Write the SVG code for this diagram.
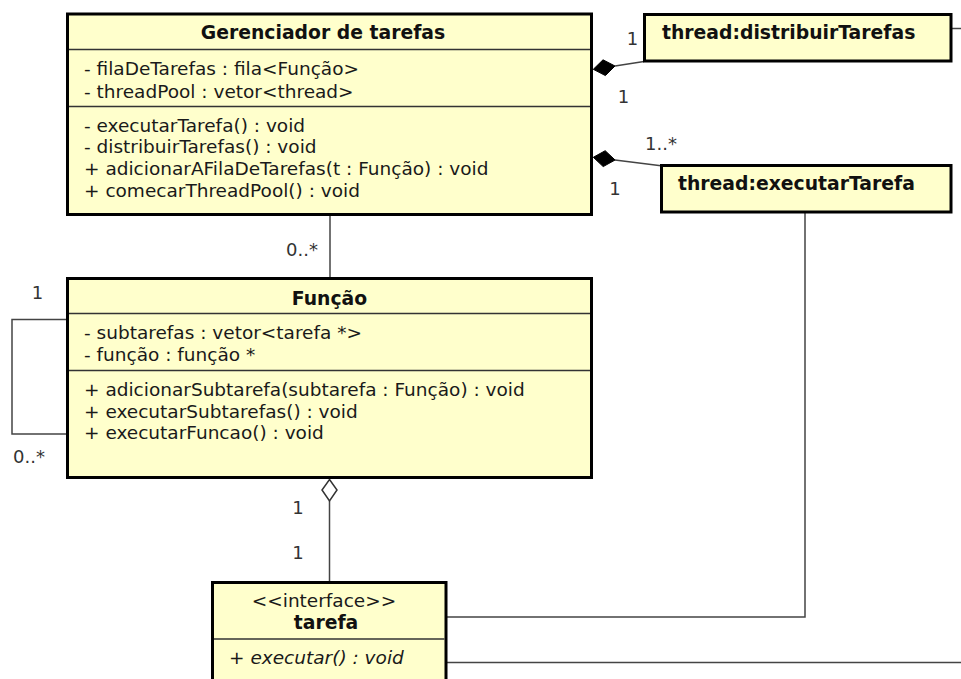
<svg xmlns="http://www.w3.org/2000/svg" width="961" height="679" viewBox="0 0 961 679">
  <style>
    .box { fill: #ffffcc; stroke: #000; stroke-width: 3; }
    .sep { stroke: #333; stroke-width: 1.3; fill: none; }
    .t { font-family: "DejaVu Sans", "Liberation Sans", sans-serif; font-size: 18.5px; fill: #1a1a1a; }
    .b { font-weight: bold; font-size: 18.8px; fill: #111; }
    .i { font-style: italic; }
    .mid { text-anchor: middle; }
    .lbl { font-family: "DejaVu Sans", "Liberation Sans", sans-serif; font-size: 18px; fill: #333; }
    .edge { stroke: #444; stroke-width: 1.5; fill: none; }
    .comp { fill: #000; stroke: #000; stroke-width: 1; }
    .agg { fill: #fff; stroke: #333; stroke-width: 1.5; }
  </style>
  <rect width="961" height="679" fill="#fff"/>

  <!-- connectors -->
  <g id="connectors">
    <path class="edge" d="M330 216 V277"/>
    <path class="edge" d="M615 66 L644 61.5"/>
    <polygon class="comp" points="593.3,69.3 605.4,75.6 615,66 603,59.8"/>
    <path class="edge" d="M615 160 L661 165.7"/>
    <polygon class="comp" points="593.3,157.3 603.2,166.6 615.1,160 605.2,150.7"/>
    <path class="edge" d="M68 319.5 H12 V434 H68"/>
    <path class="edge" d="M329.5 501 V581"/>
    <polygon class="agg" points="329.5,479.5 337,490 329.5,501 322,490"/>
    <path class="edge" d="M805 212 V617 H446"/>
    <path class="edge" d="M446 662.5 H961"/>
    <path class="edge" d="M951 28.5 H961"/>

    <text class="lbl mid" x="632.5" y="45">1</text>
    <text class="lbl mid" x="623.5" y="102.5">1</text>
    <text class="lbl" x="645" y="149.5">1..*</text>
    <text class="lbl mid" x="615" y="194.5">1</text>
    <text class="lbl" x="318" y="256" text-anchor="end">0..*</text>
    <text class="lbl mid" x="37.5" y="299">1</text>
    <text class="lbl" x="13" y="463">0..*</text>
    <text class="lbl mid" x="298" y="514">1</text>
    <text class="lbl mid" x="298" y="559">1</text>
  </g>

  <!-- Gerenciador de tarefas -->
  <g id="gerenciador">
    <rect class="box" x="67.5" y="14" width="524" height="200.5"/>
    <line class="sep" x1="69" y1="49.5" x2="590" y2="49.5"/>
    <line class="sep" x1="69" y1="106.5" x2="590" y2="106.5"/>
    <text class="t b mid" x="323" y="38.5">Gerenciador de tarefas</text>
    <text class="t" x="84" y="75">- filaDeTarefas : fila&lt;Função&gt;</text>
    <text class="t" x="84" y="97.5">- threadPool : vetor&lt;thread&gt;</text>
    <text class="t" x="84" y="131.5">- executarTarefa() : void</text>
    <text class="t" x="84" y="153">- distribuirTarefas() : void</text>
    <text class="t" x="84" y="175">+ adicionarAFilaDeTarefas(t : Função) : void</text>
    <text class="t" x="84" y="196.5">+ comecarThreadPool() : void</text>
  </g>

  <!-- thread:distribuirTarefas -->
  <g id="thread-distribuir">
    <rect class="box" x="644.5" y="14.5" width="306.5" height="46.5"/>
    <text class="t b" x="662" y="38.5">thread:distribuirTarefas</text>
  </g>

  <!-- thread:executarTarefa -->
  <g id="thread-executar">
    <rect class="box" x="661.5" y="165.5" width="289.5" height="46.5"/>
    <text class="t b" x="678" y="190">thread:executarTarefa</text>
  </g>

  <!-- Função -->
  <g id="funcao">
    <rect class="box" x="67.5" y="278.5" width="524" height="199"/>
    <line class="sep" x1="69" y1="313.5" x2="590" y2="313.5"/>
    <line class="sep" x1="69" y1="370.5" x2="590" y2="370.5"/>
    <text class="t b mid" x="329.5" y="304.5">Função</text>
    <text class="t" x="84" y="339">- subtarefas : vetor&lt;tarefa *&gt;</text>
    <text class="t" x="84" y="361">- função : função *</text>
    <text class="t" x="84" y="396">+ adicionarSubtarefa(subtarefa : Função) : void</text>
    <text class="t" x="84" y="417.5">+ executarSubtarefas() : void</text>
    <text class="t" x="84" y="439">+ executarFuncao() : void</text>
  </g>

  <!-- tarefa (interface) -->
  <g id="tarefa">
    <rect class="box" x="212.5" y="582.5" width="233.5" height="120"/>
    <line class="sep" x1="214" y1="639" x2="444.5" y2="639"/>
    <text class="t mid" x="324" y="607">&lt;&lt;interface&gt;&gt;</text>
    <text class="t b mid" x="326" y="629">tarefa</text>
    <text class="t i" x="229" y="664">+ executar() : void</text>
  </g>
</svg>
